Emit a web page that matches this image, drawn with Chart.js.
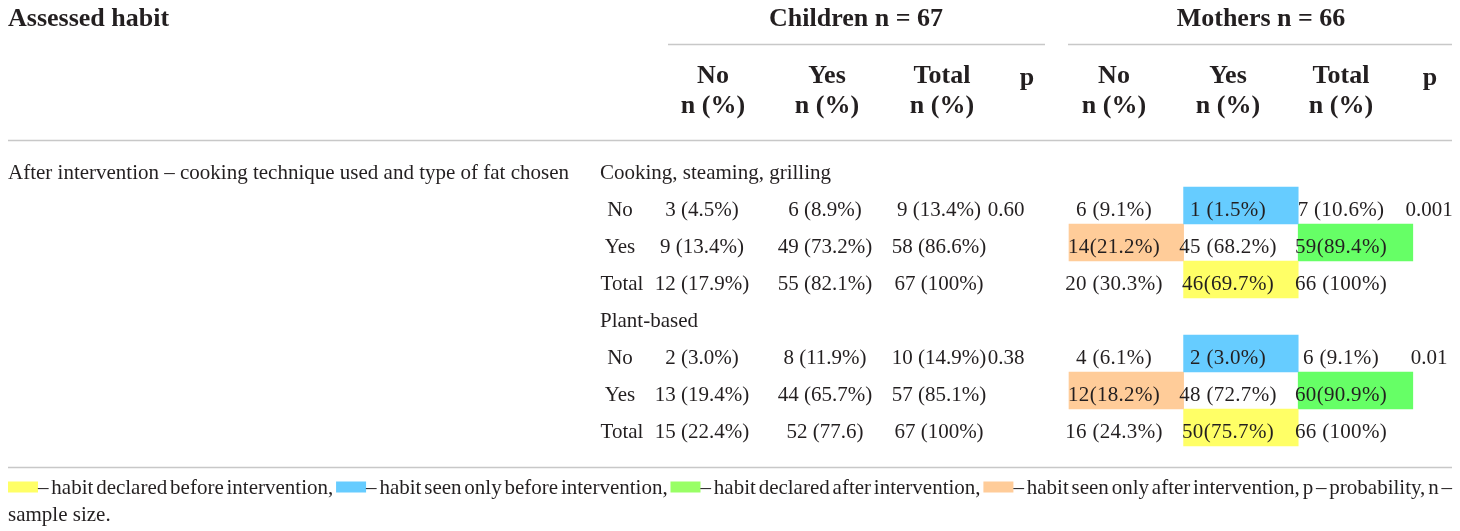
<!DOCTYPE html>
<html><head><meta charset="utf-8">
<script src="https://cdn.jsdelivr.net/npm/chart.js@4.4.0/dist/chart.umd.min.js"></script>
<style>html,body{margin:0;padding:0;background:#fff;}#wrap{width:1460px;height:531px;position:relative;}</style>
</head><body><div id="wrap"><canvas id="c"></canvas></div>
<script>
// ---------- DATA ----------
const titleLabel = 'Assessed habit';
const groupHeaders = ['Children n = 67', 'Mothers n = 66'];
const columnHeaders = ['No', 'Yes', 'Total', 'p'];
const columnSubHeaders = ['n (%)', 'n (%)', 'n (%)', ''];
const habitLabel = 'After intervention \u2013 cooking technique used and type of fat chosen';
const blockLabels = ['Cooking, steaming, grilling', 'Plant-based'];
const rowLabels = ['No', 'Yes', 'Total'];
const childrenCooking = [
  ['3 (4.5%)', '6 (8.9%)', '9 (13.4%)'],
  ['9 (13.4%)', '49 (73.2%)', '58 (86.6%)'],
  ['12 (17.9%)', '55 (82.1%)', '67 (100%)']
];
const mothersCooking = [
  ['6 (9.1%)', '1 (1.5%)', '7 (10.6%)'],
  ['14(21.2%)', '45 (68.2%)', '59(89.4%)'],
  ['20 (30.3%)', '46(69.7%)', '66 (100%)']
];
const childrenPlant = [
  ['2 (3.0%)', '8 (11.9%)', '10 (14.9%)'],
  ['13 (19.4%)', '44 (65.7%)', '57 (85.1%)'],
  ['15 (22.4%)', '52 (77.6)', '67 (100%)']
];
const mothersPlant = [
  ['4 (6.1%)', '2 (3.0%)', '6 (9.1%)'],
  ['12(18.2%)', '48 (72.7%)', '60(90.9%)'],
  ['16 (24.3%)', '50(75.7%)', '66 (100%)']
];
const pChildren = ['0.60', '0.38'];
const pMothers = ['0.001', '0.01'];
// highlight kind of each mothers cell (row x column)
const mothersCookingMarks = [
  [null, 'onlyBefore', null],
  ['onlyAfter', null, 'after'],
  [null, 'before', null]
];
const mothersPlantMarks = [
  [null, 'onlyBefore', null],
  ['onlyAfter', null, 'after'],
  [null, 'before', null]
];
const markKinds = ['before', 'onlyBefore', 'after', 'onlyAfter'];
const footnoteTexts = [
  '\u2013 habit declared before intervention,',
  '\u2013 habit seen only before intervention,',
  '\u2013 habit declared after intervention,',
  '\u2013 habit seen only after intervention, p \u2013 probability, n \u2013'
];
const footnoteTail = 'sample size.';

// ---------- STYLE / LAYOUT ----------
const cellColors = { before: '#FFFF66', onlyBefore: '#66CCFF', after: '#66FF66', onlyAfter: '#FFCC99' };
const swatchColors = { before: '#FFFF66', onlyBefore: '#66CCFF', after: '#99FF66', onlyAfter: '#FFCC99' };
const W = 1460, H = 531;
const COL_W = 114.6, M_LEFT = 1069;   // mothers table columns (column units)
const ROW_H = 37, ROW0 = 168.5;        // body rows (row units)
const TEXT_DY = 4.5;
const INK = '#231f20';
const RULE = '#c8c8c8';
const SERIF = '"Liberation Serif", "Times New Roman", serif';
const childX = [702, 825, 939, 1006];
const childHeadX = [713, 827, 942, 1027];
const mothX = [1114, 1228, 1341, 1429];
const mothHeadX = [1114, 1228, 1341, 1430];

const blocksMarks = [mothersCookingMarks, mothersPlantMarks];
const datasets = markKinds.map(kind => {
  const data = [];
  blocksMarks.forEach((marks, b) => {
    marks.forEach((row, r) => {
      row.forEach((k, c) => {
        if (k === kind) data.push({ x: [c, c + 1], y: b * 4 + 1 + r });
      });
    });
  });
  return {
    label: kind, data,
    backgroundColor: cellColors[kind],
    borderWidth: 0, borderSkipped: false,
    barThickness: ROW_H, grouped: false
  };
});

const tablePlugin = {
  id: 'tableText',
  afterDraw(chart) {
    const ctx = chart.ctx;
    const ys = chart.scales.y;
    const rowY = i => ys.getPixelForValue(i) + TEXT_DY;
    ctx.save();
    ctx.strokeStyle = RULE; ctx.lineWidth = 1.6;
    const hline = (x0, x1, y) => { ctx.beginPath(); ctx.moveTo(x0, y); ctx.lineTo(x1, y); ctx.stroke(); };
    hline(668, 1045, 44.5);
    hline(1068, 1452, 44.5);
    hline(8, 1452, 140.5);
    hline(8, 1452, 467.5);

    ctx.fillStyle = INK;
    ctx.textBaseline = 'middle';
    ctx.font = 'bold 26px ' + SERIF;
    ctx.textAlign = 'left';
    ctx.fillText(titleLabel, 8, 19);
    ctx.textAlign = 'center';
    ctx.fillText(groupHeaders[0], 856, 19);
    ctx.fillText(groupHeaders[1], 1261, 19);
    columnHeaders.forEach((h, i) => {
      const dy = h === 'p' ? 78 : 76;
      ctx.fillText(h, childHeadX[i], dy);
      ctx.fillText(h, mothHeadX[i], dy);
      if (columnSubHeaders[i]) {
        ctx.fillText(columnSubHeaders[i], childHeadX[i], 106);
        ctx.fillText(columnSubHeaders[i], mothHeadX[i], 106);
      }
    });

    ctx.font = '21px ' + SERIF;
    ctx.textAlign = 'left';
    ctx.fillText(habitLabel, 8, rowY(0));
    const childBlocks = [childrenCooking, childrenPlant];
    const mothBlocks = [mothersCooking, mothersPlant];
    blockLabels.forEach((lab, b) => {
      ctx.textAlign = 'left';
      ctx.letterSpacing = '0px';
      ctx.fillText(lab, 600, rowY(b * 4));
      rowLabels.forEach((rl, r) => {
        const yy = rowY(b * 4 + 1 + r);
        ctx.textAlign = 'center';
        ctx.letterSpacing = '0px';
        ctx.fillText(rl, rl === 'Total' ? 622 : 620, yy);
        for (let c = 0; c < 3; c++) {
          ctx.letterSpacing = '0px';
          ctx.fillText(childBlocks[b][r][c], childX[c], yy);
          ctx.letterSpacing = '0.3px';
          ctx.fillText(mothBlocks[b][r][c], mothX[c], yy);
        }
        ctx.letterSpacing = '0px';
        if (r === 0) {
          ctx.fillText(pChildren[b], childX[3], yy);
          ctx.fillText(pMothers[b], mothX[3], yy);
        }
      });
    });
    ctx.letterSpacing = '0px';

    // footnote (justified first line)
    ctx.font = '21px ' + SERIF;
    ctx.textAlign = 'left';
    const SW = 30, SH = 11, y1 = 488, y2 = 515;
    const groups = [];
    footnoteTexts.forEach((t, i) => {
      t.split(' ').forEach((w, j) => {
        const g = { parts: [] };
        if (j === 0) g.parts.push({ swatch: markKinds[i] });
        g.parts.push({ text: w });
        groups.push(g);
      });
    });
    let total = 0;
    groups.forEach(g => {
      g.w = g.parts.reduce((s, p) => s + (p.swatch ? SW : ctx.measureText(p.text).width), 0);
      total += g.w;
    });
    const gap = (1452 - 8 - total) / (groups.length - 1);
    let x = 8;
    groups.forEach(g => {
      g.parts.forEach(p => {
        if (p.swatch) {
          ctx.fillStyle = swatchColors[p.swatch];
          ctx.fillRect(x, y1 - SH / 2 - 1, SW, SH);
          x += SW;
        } else {
          ctx.fillStyle = INK;
          ctx.fillText(p.text, x, y1);
          x += ctx.measureText(p.text).width;
        }
      });
      x += gap;
    });
    ctx.fillStyle = INK;
    ctx.fillText(footnoteTail, 8, y2);
    ctx.restore();
  }
};

new Chart(document.getElementById('c'), {
  type: 'bar',
  data: { datasets },
  options: {
    indexAxis: 'y',
    responsive: true,
    maintainAspectRatio: false,
    animation: false,
    devicePixelRatio: 1,
    layout: { padding: 0 },
    plugins: { legend: { display: false }, tooltip: { enabled: false } },
    scales: {
      x: { type: 'linear', display: false, offset: false, min: -M_LEFT / COL_W, max: (W - M_LEFT) / COL_W },
      y: { type: 'linear', display: false, offset: false, reverse: true, min: -ROW0 / ROW_H, max: (H - ROW0) / ROW_H }
    }
  },
  plugins: [tablePlugin]
});
</script>
</body></html>
